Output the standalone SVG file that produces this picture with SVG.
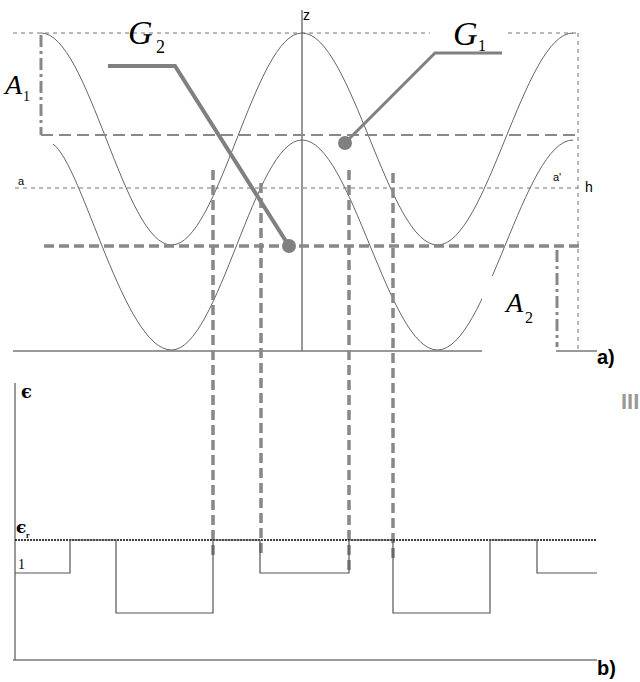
<svg xmlns="http://www.w3.org/2000/svg" width="640" height="682" viewBox="0 0 640 682">
<style>
.curve{fill:none;stroke:#666;stroke-width:1}
.thin{fill:none;stroke:#777;stroke-width:1;stroke-dasharray:4 4}
.axis{fill:none;stroke:#777;stroke-width:1.5}
.thick{fill:none;stroke:#888;stroke-width:3.5;stroke-dasharray:10 5}
.lead{fill:none;stroke:#808080}
.serif{font-family:"Liberation Serif","DejaVu Serif",serif;fill:#000}
.sans{font-family:"Liberation Sans","DejaVu Sans",sans-serif;fill:#000}
.eps{font-family:"DejaVu Serif",serif;fill:#000;font-weight:bold}
</style>
<rect width="640" height="682" fill="#fff"/>
<g id="axes-a">
<line class="axis" x1="302" y1="10" x2="302" y2="351"/>
<line class="axis" x1="13" y1="351" x2="597" y2="351"/>
<line class="thin" x1="13" y1="33" x2="430" y2="33"/>
<line class="thin" x1="508" y1="33" x2="578" y2="33"/>
<line class="thin" x1="578" y1="33" x2="578" y2="351"/>
<line class="thin" x1="15" y1="188" x2="578" y2="188"/>
</g>
<g id="curves">
<path class="curve" d="M41,33 C88.4,33 124.1,245 171.5,245 C218.9,245 254.6,33 302,33 C351.2,33 388.3,245 437.5,245 C486.7,245 523.8,33 573,33"/>
<path class="curve" d="M53,144 C83,165.6 124.1,350 171.5,350 C218.9,350 254.6,140 302,140 C351.2,140 388.3,350 437.5,350 C486.7,350 523.8,140 573,140"/>
</g>
<rect x="482" y="276" width="74" height="78" fill="#fff"/>
<g id="guides">
<line x1="41" y1="35" x2="41" y2="135" stroke="#888" stroke-width="3" stroke-dasharray="12 4 3 4"/>
<line x1="41" y1="135" x2="578" y2="135" stroke="#888" stroke-width="2" stroke-dasharray="12 6"/>
<line class="thick" x1="44" y1="246" x2="583" y2="246"/>
<line x1="557" y1="250" x2="557" y2="347" stroke="#888" stroke-width="3" stroke-dasharray="12 4 3 4"/>
<line class="thick" x1="213" y1="170" x2="213" y2="558"/>
<line class="thick" x1="261" y1="183" x2="261" y2="558"/>
<line class="thick" x1="349" y1="170" x2="349" y2="572"/>
<line class="thick" x1="393" y1="173" x2="393" y2="558"/>
</g>
<g id="G2">
<polyline class="lead" stroke-width="4" points="108,66 175,66 289,246"/>
<circle cx="289" cy="246" r="7" fill="#808080"/>
<text class="serif" x="128" y="44" font-size="34" font-style="italic">G</text>
<text class="serif" x="156" y="53" font-size="18">2</text>
</g>
<g id="G1">
<polyline class="lead" stroke-width="3" points="502,53 435,53 345,143"/>
<circle cx="345" cy="143" r="7" fill="#808080"/>
<text class="serif" x="453" y="45" font-size="34" font-style="italic">G</text>
<text class="serif" x="478" y="51" font-size="16">1</text>
</g>
<g id="labels-a">
<text class="serif" x="5" y="94" font-size="28" font-style="italic">A</text>
<text class="serif" x="23" y="101" font-size="14">1</text>
<text class="serif" x="506" y="312" font-size="28" font-style="italic">A</text>
<text class="serif" x="525" y="323" font-size="16">2</text>
<text class="sans" x="303" y="20" font-size="14">z</text>
<text class="sans" x="18" y="185" font-size="11">a</text>
<text class="sans" x="553" y="181" font-size="11">a'</text>
<text class="sans" x="585" y="192" font-size="14">h</text>
<text class="sans" x="597" y="364" font-size="20" font-weight="bold">a)</text>
<text class="sans" x="621" y="409" font-size="22" font-weight="bold" style="fill:#999">III</text>
</g>
<g id="axes-b">
<line class="axis" x1="15" y1="383" x2="15" y2="660"/>
<line class="axis" x1="13" y1="660" x2="597" y2="660"/>
<text class="eps" x="21" y="398" font-size="18">ϵ</text>
<text class="eps" x="16" y="533" font-size="17">ϵ</text>
<text class="serif" x="26" y="538" font-size="8" font-weight="bold">r</text>
<text class="serif" x="18" y="569" font-size="14">1</text>
<text class="sans" x="597" y="675" font-size="20" font-weight="bold">b)</text>
</g>
<g id="wave">
<line x1="15" y1="540" x2="597" y2="540" stroke="#000" stroke-width="1.3" stroke-dasharray="2 1"/>
<path d="M15,573 H70 V540 H116 V613 H213 V540 H260 V573 H349 V540 H393 V613 H490 V540 H537 V573 H597" fill="none" stroke="#555" stroke-width="1.2"/>
</g>
</svg>
